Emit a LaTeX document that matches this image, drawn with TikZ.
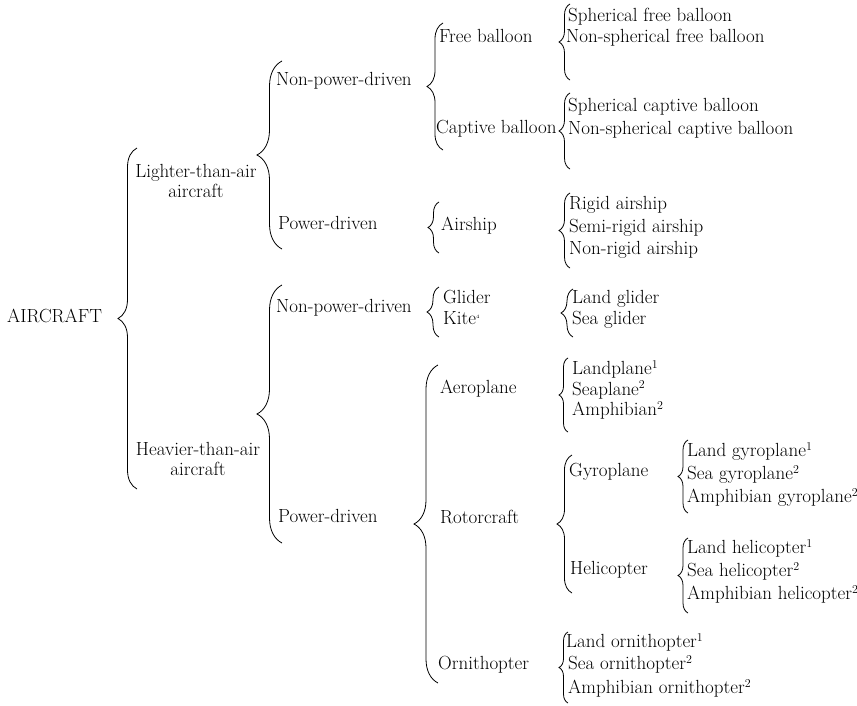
\documentclass[tikz,border=0pt]{standalone}
\usepackage{fontspec}
\setmainfont{Latin Modern Roman}
\usetikzlibrary{decorations.pathreplacing}

\tikzset{
  lbl/.style={anchor=west, inner sep=0pt, text height=1.5ex, text depth=.25ex},
  grp/.style={align=center, inner sep=0pt, font=\fontsize{19}{20}\selectfont},
  brc/.style={decorate, decoration={brace, amplitude=#1}, line width=0.8pt},
}
% curly brace: x of the ends, top, bottom, amplitude
\newcommand{\curly}[4]{\draw[brc=#4] (#1,#3) -- (#1,#2);}
\newcommand{\fn}[1]{\textsuperscript{\fontsize{12}{12}\selectfont #1}}

\begin{document}
\begin{tikzpicture}[x=1pt, y=-1pt, font=\fontsize{19}{22}\selectfont]
\useasboundingbox (0,0) rectangle (857,705);

\node[lbl] (air) at (7,320) {AIRCRAFT};
\curly{137}{148}{489}{19pt}

% Lighter / heavier
\node[grp] (lta) at (196,181) {Lighter-than-air\\aircraft};
\node[grp] (hta) at (198,459) {Heavier-than-air\\aircraft};
\curly{282}{61}{249}{25pt}
\curly{282}{285}{543}{25pt}

\node[lbl] (npd1) at (276,83) {Non-power-driven};
\node[lbl] (pd1) at (278,227) {Power-driven};
\node[lbl] (npd2) at (276,310) {Non-power-driven};
\node[lbl] (pd2) at (278,520) {Power-driven};

% Third column
\curly{443}{23}{150}{16pt}
\node[lbl] (free) at (439,40) {Free balloon};
\node[lbl] (capt) at (436,131) {Captive balloon};
\curly{439}{202}{253}{11pt}
\node[lbl] (ship) at (441,228) {Airship};
\curly{439}{287}{337}{12pt}
\node[lbl] (glid) at (443,301) {Glider};
\node[lbl] (kite) at (443,322) {Kite\textsuperscript{\tiny 4}};
\curly{438}{365}{683}{24pt}
\node[lbl] (aero) at (440,391) {Aeroplane};
\node[lbl] (roto) at (440,521) {Rotorcraft};
\node[lbl] (orni) at (438,667) {Ornithopter};

% Balloons
\curly{570}{4}{80}{11pt}
\node[lbl] (fb1) at (568,19) {Spherical free balloon};
\node[lbl] (fb2) at (566,40) {Non-spherical free balloon};
\curly{570}{93}{169}{11pt}
\foreach \t [count=\i] in {Spherical captive balloon, Non-spherical captive balloon}
	\node[lbl] (cb\i) at (568,86+23*\i) {\t};

% Airships, gliders, aeroplanes
\curly{570}{193}{268}{11pt}
\foreach \t [count=\i] in {Rigid airship, Semi-rigid airship, Non-rigid airship}
	\node[lbl] (as\i) at (569,184.5+22.5*\i) {\t};
\curly{573}{289}{337}{12pt}
\foreach \t [count=\i] in {Land glider, Sea glider}
	\node[lbl] (gl\i) at (572,280+21*\i) {\t};
\curly{568}{358}{432}{9pt}
\foreach \t [count=\i] in {Landplane\fn{1}, Seaplane\fn{2}, Amphibian\fn{2}}
	\node[lbl] (ap\i) at (572,351.5+20.5*\i) {\t};

% Rotorcraft
\curly{572}{455}{593}{15pt}
\node[lbl] (gyro) at (569,474) {Gyroplane};
\node[lbl] (heli) at (570,572) {Helicopter};
\curly{688}{440}{513}{10pt}
\foreach \t [count=\i] in {Land gyroplane\fn{1}, Sea gyroplane\fn{2}, Amphibian gyroplane\fn{2}}
	\node[lbl] (gy\i) at (687,431+23*\i) {\t};
\curly{688}{538}{613}{10pt}
\foreach \t [count=\i] in {Land helicopter\fn{1}, Sea helicopter\fn{2}, Amphibian helicopter\fn{2}}
	\node[lbl] (he\i) at (687,528+23*\i) {\t};

% Ornithopters
\curly{568}{632}{703}{9pt}
\node[lbl] (or1) at (566,645) {Land ornithopter\fn{1}};
\node[lbl] (or2) at (568,667) {Sea ornithopter\fn{2}};
\node[lbl] (or3) at (568,691) {Amphibian ornithopter\fn{2}};

\end{tikzpicture}
\end{document}
